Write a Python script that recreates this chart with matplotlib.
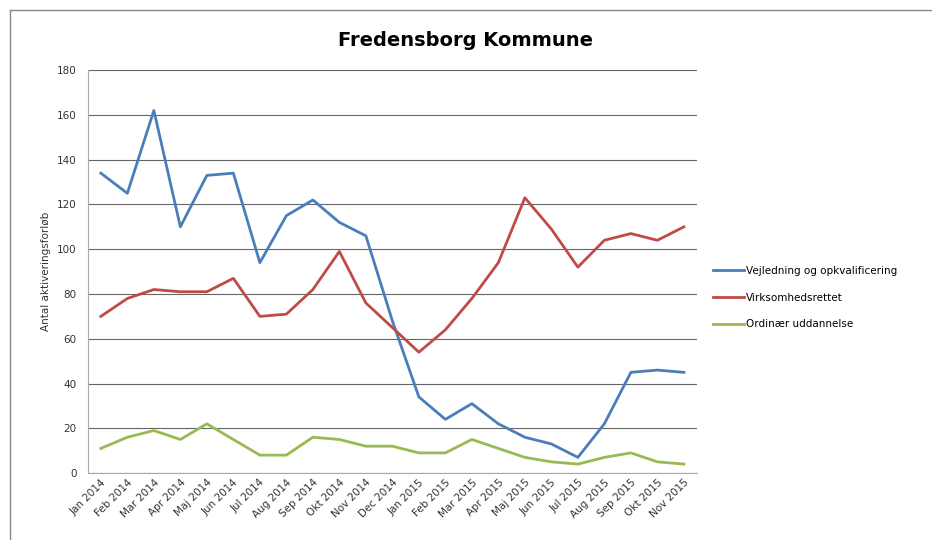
import matplotlib.pyplot as plt
from matplotlib.lines import Line2D

months = ["Jan 2014", "Feb 2014", "Mar 2014", "Apr 2014", "Maj 2014", "Jun 2014",
          "Jul 2014", "Aug 2014", "Sep 2014", "Okt 2014", "Nov 2014", "Dec 2014",
          "Jan 2015", "Feb 2015", "Mar 2015", "Apr 2015", "Maj 2015", "Jun 2015",
          "Jul 2015", "Aug 2015", "Sep 2015", "Okt 2015", "Nov 2015"]

vejledning = [134, 125, 162, 110, 133, 134, 94, 115, 122, 112, 106, 68,
              34, 24, 31, 22, 16, 13, 7, 22, 45, 46, 45]
virksomhed = [70, 78, 82, 81, 81, 87, 70, 71, 82, 99, 76, 65,
              54, 64, 78, 94, 123, 109, 92, 104, 107, 104, 110]
ordinaer = [11, 16, 19, 15, 22, 15, 8, 8, 16, 15, 12, 12,
            9, 9, 15, 11, 7, 5, 4, 7, 9, 5, 4]

labels = ["Vejledning og opkvalificering", "Virksomhedsrettet", "Ordinær uddannelse"]
colors = ["#4a7ebb", "#be4b48", "#98b954"]

fig = plt.figure(figsize=(9.32, 5.4), dpi=100)
ax = fig.add_axes([0.094, 0.124, 0.654, 0.746])

x = range(len(months))
for vals, lab, col in zip([vejledning, virksomhed, ordinaer], labels, colors):
    ax.plot(x, vals, color=col, linewidth=2, label=lab)

ax.set_ylim(0, 180)
ax.set_yticks(range(0, 181, 20))
ax.set_xlim(-0.5, len(months) - 0.5)
ax.set_xticks(list(x))
ax.set_xticklabels(months, rotation=45, ha="right", rotation_mode="anchor",
                   fontsize=7.5, color="#333333")
ax.tick_params(axis="y", labelsize=7.5, labelcolor="#333333", length=0, pad=8)
ax.tick_params(axis="x", length=0, pad=3)
ax.grid(axis="y", color="#666666", linewidth=0.8)
ax.set_axisbelow(True)
for s in ["top", "right"]:
    ax.spines[s].set_visible(False)
for s in ["left", "bottom"]:
    ax.spines[s].set_color("#aaaaaa")
ax.set_ylabel("Antal aktiveringsforløb", fontsize=7.5, color="#333333")

fig.text(0.5, 0.925, "Fredensborg Kommune", ha="center", va="center",
         fontsize=14, fontweight="bold")

ax.legend(loc="center left", bbox_to_anchor=(1.01, 0.435), frameon=False,
          fontsize=7.5, handlelength=3, labelspacing=1.6, handletextpad=0.2)

# outer chart border (top and left visible)
fig.add_artist(Line2D([10 / 932, 1], [1 - 10 / 540, 1 - 10 / 540],
                      transform=fig.transFigure, color="#888888", linewidth=1))
fig.add_artist(Line2D([10 / 932, 10 / 932], [0, 1 - 10 / 540],
                      transform=fig.transFigure, color="#888888", linewidth=1))

fig.savefig("out.png", dpi=100)
